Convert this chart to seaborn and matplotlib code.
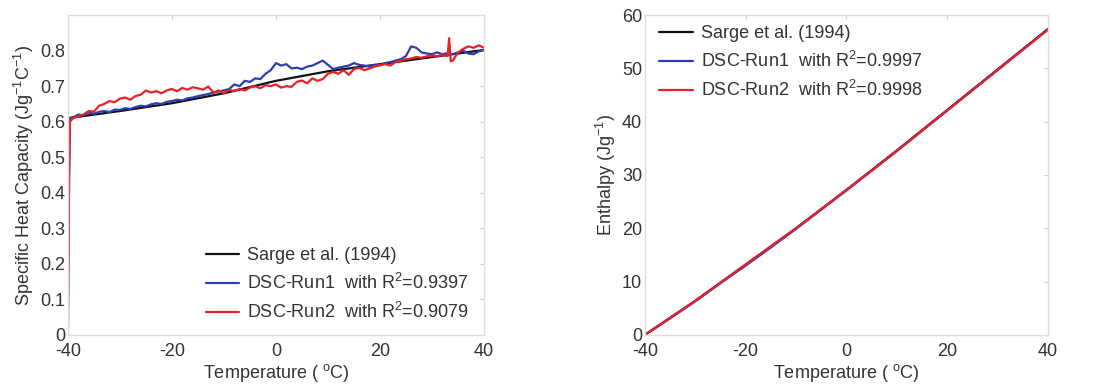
import numpy as np
import pandas as pd
import matplotlib
matplotlib.use("Agg")
import matplotlib.pyplot as plt
import seaborn as sns

# --- data ---
sarge_t = [-40, -30, -20, -10, 0, 10, 20, 30, 40]
sarge_cp = [0.610, 0.630, 0.652, 0.680, 0.715, 0.742, 0.762, 0.782, 0.802]

run1_t = [-40.0, -39.8, -39.6] + list(range(-39, 41))
run1_cp = [0.0, 0.38, 0.61,
           0.612, 0.620, 0.618, 0.626, 0.622, 0.628, 0.630, 0.627, 0.634, 0.633,
           0.638, 0.636, 0.641, 0.645, 0.643, 0.649, 0.652, 0.650, 0.656, 0.658,
           0.662, 0.660, 0.666, 0.668, 0.672, 0.675, 0.678, 0.682, 0.685, 0.688,
           0.692, 0.705, 0.700, 0.715, 0.712, 0.722, 0.720, 0.735, 0.745, 0.765,
           0.758, 0.762, 0.750, 0.752, 0.748, 0.755, 0.758, 0.765, 0.772, 0.760,
           0.748, 0.752, 0.755, 0.758, 0.765, 0.760, 0.758, 0.755, 0.760, 0.758,
           0.765, 0.768, 0.772, 0.776, 0.785, 0.812, 0.808, 0.795, 0.792, 0.790,
           0.795, 0.790, 0.793, 0.790, 0.795, 0.800, 0.792, 0.790, 0.798, 0.802]

run2_t = ([-40.0, -39.8, -39.6] + list(range(-39, 34)) + [33.3, 33.6]
          + list(range(34, 41)))
run2_cp = [0.0, 0.45, 0.60,
           0.610, 0.615, 0.620, 0.630, 0.628, 0.645, 0.650, 0.658, 0.655, 0.665,
           0.668, 0.662, 0.672, 0.676, 0.688, 0.682, 0.686, 0.680, 0.688, 0.692,
           0.686, 0.695, 0.690, 0.697, 0.694, 0.690, 0.699, 0.682, 0.688, 0.680,
           0.690, 0.686, 0.692, 0.688, 0.696, 0.700, 0.694, 0.703, 0.700, 0.705,
           0.696, 0.700, 0.698, 0.712, 0.716, 0.708, 0.722, 0.715, 0.720, 0.735,
           0.740, 0.735, 0.745, 0.732, 0.748, 0.752, 0.745, 0.750, 0.755, 0.760,
           0.762, 0.758, 0.768, 0.772, 0.776, 0.778, 0.782, 0.780, 0.784, 0.786,
           0.784, 0.788, 0.785, 0.835, 0.770,
           0.772, 0.795, 0.805, 0.812, 0.808, 0.815, 0.808]

enth_t = [-40, -35, -30, -25, -20, -15, -10, -5, 0, 5, 10, 15, 20, 25, 30, 35, 40]
sarge_h = [0.0, 3.2, 6.4, 9.8, 13.2, 16.6, 20.0, 23.6, 27.2, 30.9, 34.6, 38.4,
           42.2, 46.0, 49.8, 53.6, 57.4]
run1_h = [0.0, 3.1, 6.3, 9.7, 13.0, 16.4, 19.9, 23.5, 27.1, 30.8, 34.5, 38.3,
          42.1, 45.9, 49.7, 53.5, 57.3]
run2_h = [0.0, 3.2, 6.4, 9.8, 13.2, 16.6, 20.0, 23.6, 27.2, 30.8, 34.5, 38.3,
          42.1, 45.9, 49.7, 53.5, 57.3]

lab_cp = ["Sarge et al. (1994)",
          "DSC-Run1  with R$^2$=0.9397",
          "DSC-Run2  with R$^2$=0.9079"]
lab_h = ["Sarge et al. (1994)",
         "DSC-Run1  with R$^2$=0.9997",
         "DSC-Run2  with R$^2$=0.9998"]
colors = ["#111111", "#2b3fb0", "#e8202a"]

cp_df = pd.concat([
    pd.DataFrame({"T": sarge_t, "val": sarge_cp, "serie": lab_cp[0]}),
    pd.DataFrame({"T": run1_t, "val": run1_cp, "serie": lab_cp[1]}),
    pd.DataFrame({"T": run2_t, "val": run2_cp, "serie": lab_cp[2]}),
], ignore_index=True)

h_df = pd.concat([
    pd.DataFrame({"T": enth_t, "val": sarge_h, "serie": lab_h[0]}),
    pd.DataFrame({"T": enth_t, "val": run1_h, "serie": lab_h[1]}),
    pd.DataFrame({"T": enth_t, "val": run2_h, "serie": lab_h[2]}),
], ignore_index=True)

sns.set_style("white")
plt.rcParams["font.family"] = ["Liberation Sans", "DejaVu Sans"]
plt.rcParams["mathtext.fontset"] = "custom"
plt.rcParams["mathtext.rm"] = "Liberation Sans"
plt.rcParams["axes.unicode_minus"] = False
plt.rcParams["xtick.direction"] = "in"
plt.rcParams["ytick.direction"] = "in"

fig = plt.figure(figsize=(10.95, 3.88), dpi=100)
ax1 = fig.add_axes([0.062, 0.137, 0.380, 0.824])
ax2 = fig.add_axes([0.589, 0.137, 0.368, 0.824])

sns.lineplot(data=cp_df, x="T", y="val", hue="serie", palette=colors,
             estimator=None, sort=False, linewidth=1.6, ax=ax1)
sns.lineplot(data=h_df, x="T", y="val", hue="serie", palette=colors,
             estimator=None, sort=False, linewidth=1.6, ax=ax2)

txt = "#333333"
fs = 13
for ax in (ax1, ax2):
    ax.set_xlim(-40, 40)
    ax.set_xticks([-40, -20, 0, 20, 40])
    ax.set_xlabel("Temperature ( $^{\\mathrm{o}}$C)", fontsize=fs, color=txt,
                  labelpad=1)
    for s in ax.spines.values():
        s.set_color("#dddddd")
        s.set_linewidth(1.0)
    ax.tick_params(labelsize=fs, colors="#cccccc", labelcolor=txt,
                   length=3, width=0.8, top=True, right=True)
    ax.tick_params(axis="x", pad=6)
    ax.tick_params(axis="y", pad=2)
    ax.xaxis.set_minor_locator(matplotlib.ticker.AutoMinorLocator(2))

ax1.set_ylim(0, 0.9)
ax1.set_yticks(np.arange(0, 0.81, 0.1))
ax1.set_yticklabels(["0", "0.1", "0.2", "0.3", "0.4", "0.5", "0.6", "0.7", "0.8"])
ax1.set_ylabel("Specific Heat Capacity (Jg$^{-1}$C$^{-1}$)", fontsize=fs,
               color=txt, labelpad=3)
ax1.legend(loc="lower right", bbox_to_anchor=(1.002, -0.012), frameon=False,
           fontsize=fs, handlelength=1.85, handletextpad=0.45, labelspacing=0.5,
           labelcolor=txt)

ax2.set_ylim(0, 60)
ax2.set_yticks(range(0, 61, 10))
ax2.set_ylabel("Enthalpy (Jg$^{-1}$)", fontsize=fs, color=txt, labelpad=3)
ax2.legend(loc="upper left", bbox_to_anchor=(-0.005, 1.02), frameon=False,
           fontsize=fs, handlelength=1.85, handletextpad=0.45, labelspacing=0.5,
           labelcolor=txt)

fig.savefig("out.png", dpi=100, facecolor="white")
